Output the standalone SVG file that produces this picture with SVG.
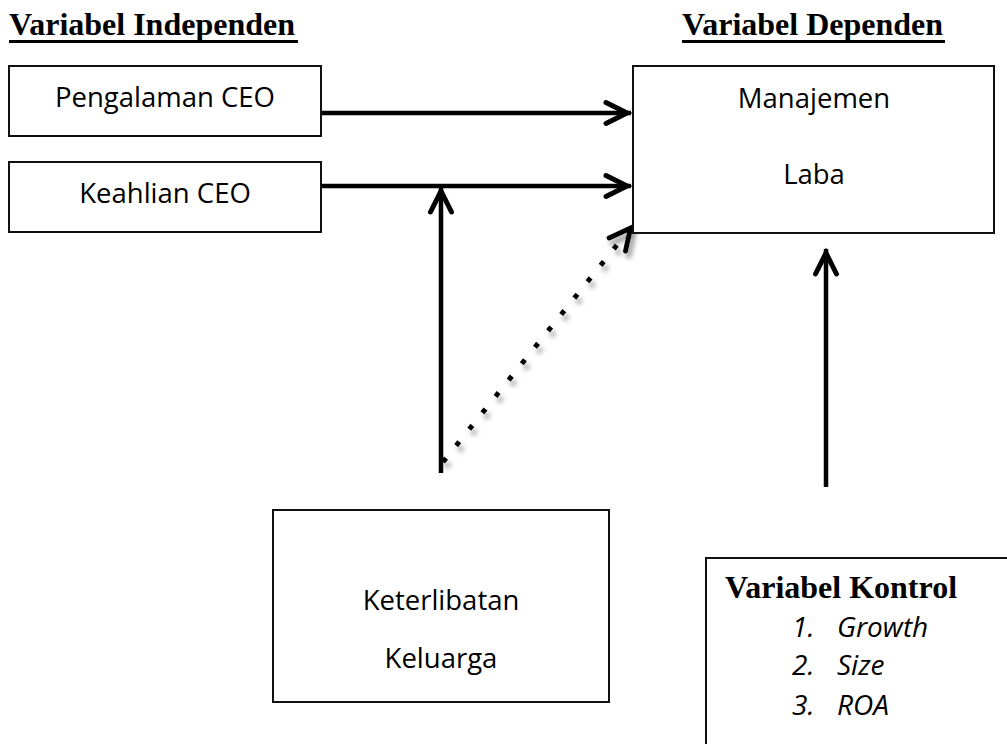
<svg xmlns="http://www.w3.org/2000/svg" width="1007" height="744" viewBox="0 0 1007 744">
<style>
.box{fill:#fff;stroke:#111;stroke-width:2}
.lbl{font-family:"Open Sans","Liberation Sans",sans-serif;font-size:27.5px;fill:#000;text-anchor:middle}
.ttl{font-family:"Liberation Serif","Times New Roman",serif;font-size:32px;font-weight:bold;fill:#000}
.itm{font-family:"Open Sans","Liberation Sans",sans-serif;font-size:28px;font-style:italic;fill:#000}
.ul{stroke:#000;stroke-width:3}
.conn{fill:none;stroke:#000;stroke-width:4.5}
.dot{fill:none;stroke:#000;stroke-width:5;stroke-dasharray:5 16}
</style>
<defs>
<marker id="arr" markerUnits="userSpaceOnUse" viewBox="-30 -20 40 40" markerWidth="40" markerHeight="40" refX="0" refY="0" orient="auto" overflow="visible">
<path d="M-25,-10.5 L-4,0 L-25,10.5" fill="none" stroke="#000" stroke-width="5" stroke-linecap="round" stroke-linejoin="miter"/>
</marker>
<filter id="sh" x="-20%" y="-20%" width="140%" height="140%">
<feDropShadow dx="3" dy="5" stdDeviation="2.5" flood-color="#888" flood-opacity="0.9"/>
</filter>
</defs>

<g id="titles">
<text class="ttl" x="9" y="35">Variabel Independen</text>
<line class="ul" x1="9" y1="41.5" x2="298" y2="41.5"/>
<text class="ttl" x="682" y="35">Variabel Dependen</text>
<line class="ul" x1="682" y1="41.5" x2="945" y2="41.5"/>
</g>

<g id="connectors">
<line class="conn" x1="321" y1="113" x2="631" y2="113" marker-end="url(#arr)"/>
<line class="conn" x1="321" y1="186" x2="631" y2="186" marker-end="url(#arr)"/>
<line class="conn" x1="441" y1="473" x2="441" y2="187" marker-end="url(#arr)"/>
<line class="conn" x1="826" y1="487" x2="826" y2="249" marker-end="url(#arr)"/>
<g filter="url(#sh)">
<line class="dot" x1="443" y1="462" x2="633" y2="225" marker-end="url(#arr)"/>
</g>
</g>

<g id="n-pengalaman">
<rect class="box" x="9" y="66" width="312" height="70"/>
<text class="lbl" x="165" y="107">Pengalaman CEO</text>
</g>
<g id="n-keahlian">
<rect class="box" x="9" y="162" width="312" height="70"/>
<text class="lbl" x="165" y="203">Keahlian CEO</text>
</g>
<g id="n-manajemen">
<rect class="box" x="633" y="66" width="361" height="167"/>
<text class="lbl" x="814" y="108">Manajemen</text>
<text class="lbl" x="814" y="184">Laba</text>
</g>
<g id="n-keterlibatan">
<rect class="box" x="273" y="510" width="336" height="192"/>
<text class="lbl" x="441" y="610">Keterlibatan</text>
<text class="lbl" x="441" y="668">Keluarga</text>
</g>
<g id="n-kontrol">
<rect class="box" x="706" y="558" width="400" height="300"/>
<text class="ttl" x="725" y="598">Variabel Kontrol</text>
<text class="itm" x="792" y="637">1.</text><text class="itm" x="837" y="637">Growth</text>
<text class="itm" x="792" y="675">2.</text><text class="itm" x="837" y="675">Size</text>
<text class="itm" x="792" y="715">3.</text><text class="itm" x="837" y="715">ROA</text>
</g>
</svg>
